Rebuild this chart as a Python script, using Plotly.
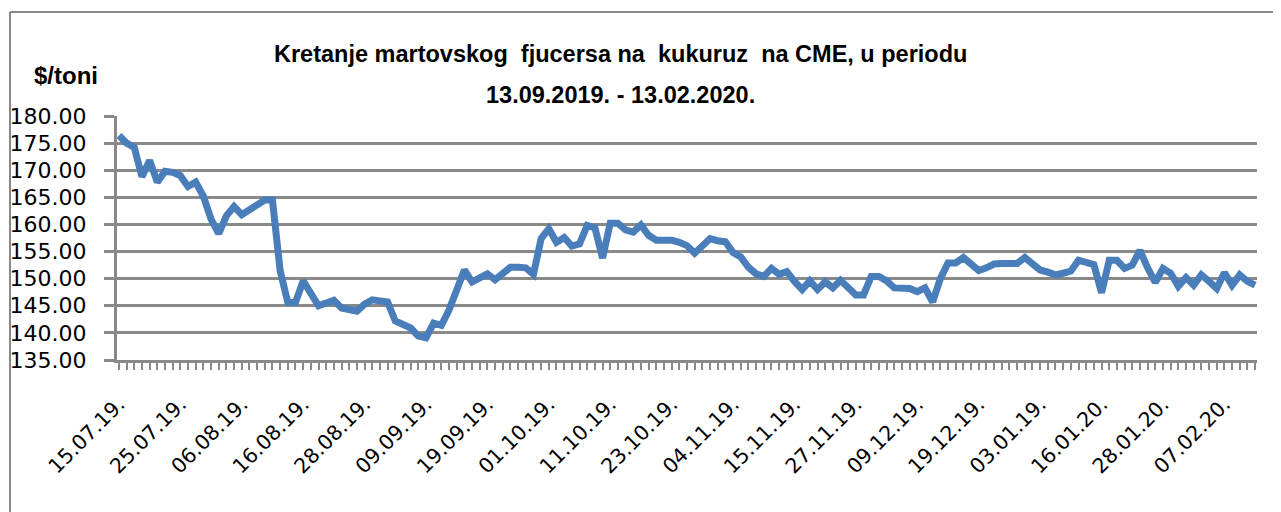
import plotly.graph_objects as go

# Values ($/toni), one per trading day
prices = [
    176.4, 175.0, 174.2, 168.8, 171.8, 167.8, 169.8, 169.6, 169.0, 167.0,
    167.8, 165.2, 161.0, 158.3, 161.6, 163.3, 161.8, 162.8, 163.8, 164.5,
    164.5, 151.5, 145.6, 145.6, 149.6, 147.2, 145.0, 145.5, 146.0, 144.6,
    144.4, 144.0, 145.3, 146.1, 145.9, 145.7, 142.2, 141.5, 140.9, 139.4,
    139.1, 141.8, 141.4, 144.2, 148.0, 151.6, 149.4, 150.2, 150.9, 149.8,
    151.0, 152.1, 152.1, 152.0, 150.8, 157.4, 159.2, 156.7, 157.6, 156.0,
    156.4, 159.8, 159.4, 153.8, 160.2, 160.2, 159.0, 158.6, 159.9, 158.0,
    157.1, 157.1, 157.1, 156.7, 156.1, 154.7, 156.0, 157.4, 157.0, 156.8,
    154.8, 154.0, 152.1, 150.9, 150.4, 151.9, 150.8, 151.3, 149.5, 148.0,
    149.6, 148.0, 149.4, 148.3, 149.7, 148.2, 147.0, 147.0, 150.4, 150.4,
    149.6, 148.3, 148.2, 148.2, 147.6, 148.3, 145.7, 150.0, 152.9, 152.9,
    153.9, 152.6, 151.5, 152.0, 152.7, 152.8, 152.8, 152.8, 153.9, 152.8,
    151.6, 151.2, 150.7, 151.0, 151.4, 153.4, 153.1, 152.6, 147.4, 153.4,
    153.4, 151.9, 152.5, 155.2, 152.0, 149.3, 151.9, 151.0, 148.6, 150.2,
    148.8, 150.7, 149.5, 148.2, 151.1, 148.8, 150.7, 149.5, 148.8,
]

# Category tick labels, shown every 8th trading day
tick_labels = [
    "15.07.19.", "25.07.19.", "06.08.19.", "16.08.19.", "28.08.19.",
    "09.09.19.", "19.09.19.", "01.10.19.", "11.10.19.", "23.10.19.",
    "04.11.19.", "15.11.19.", "27.11.19.", "09.12.19.", "19.12.19.",
    "03.01.19.", "16.01.20.", "28.01.20.", "07.02.20.",
]
label_step = 8

title_line1 = "Kretanje martovskog  fjucersa na  kukuruz  na CME, u periodu"
title_line2 = "13.09.2019. - 13.02.2020."
y_unit = "$/toni"

x_idx = list(range(len(prices)))
tick_pos = [i * label_step for i in range(len(tick_labels))]

GRAY = "#898989"
BOLD_FONT = "Liberation Sans Narrow, Arial Narrow, Liberation Sans, sans-serif"

fig = go.Figure()
fig.add_trace(go.Scatter(
    x=x_idx, y=prices, mode="lines",
    line=dict(color="#4A7EBB", width=7),
    hoverinfo="skip", showlegend=False,
))

fig.update_layout(
    width=1273, height=504,
    margin=dict(l=109, r=24, t=108, b=152),
    paper_bgcolor="white", plot_bgcolor="white",
    showlegend=False,
    xaxis=dict(
        automargin=False,
        range=[-0.25, len(prices) - 0.75],
        tickmode="array", tickvals=tick_pos, ticktext=tick_labels,
        tickangle=-45,
        tickfont=dict(family="DejaVu Sans", size=20.5, color="black"),
        ticklabelstandoff=14,
        showgrid=False, zeroline=False,
        showline=True, linecolor=GRAY, linewidth=3,
        ticks="outside", ticklen=7, tickwidth=2, tickcolor=GRAY,
        minor=dict(tick0=0, dtick=1, ticks="outside", ticklen=7,
                   tickwidth=2, tickcolor=GRAY, showgrid=False),
    ),
    yaxis=dict(
        automargin=False,
        range=[135, 180], tick0=135, dtick=5, tickformat=".2f",
        tickfont=dict(family="DejaVu Sans", size=22, color="black"),
        ticklabelstandoff=13,
        showgrid=True, gridcolor=GRAY, gridwidth=3,
        zeroline=False,
        showline=True, linecolor=GRAY, linewidth=3,
        ticks="outside", ticklen=10, tickwidth=3, tickcolor=GRAY,
    ),
    annotations=[
        dict(text=title_line1, xref="paper", yref="paper",
             x=0.442, y=1.0, xanchor="center", yanchor="bottom",
             yshift=47, showarrow=False,
             font=dict(family=BOLD_FONT, size=23.5, color="black", weight="bold")),
        dict(text=title_line2, xref="paper", yref="paper",
             x=0.442, y=1.0, xanchor="center", yanchor="bottom",
             yshift=6, showarrow=False,
             font=dict(family=BOLD_FONT, size=23.5, color="black", weight="bold")),
        dict(text=y_unit, xref="paper", yref="paper",
             x=-0.075, y=1.0, xanchor="left", yanchor="bottom",
             yshift=25, showarrow=False,
             font=dict(family=BOLD_FONT, size=24, color="black", weight="bold")),
    ],
    shapes=[
        dict(type="line", xref="paper", yref="paper",
             x0=-107 / 1140, x1=1.05, y0=1 + 104 / 244, y1=1 + 104 / 244,
             line=dict(color=GRAY, width=2)),
        dict(type="line", xref="paper", yref="paper",
             x0=-107 / 1140, x1=-107 / 1140, y0=1 + 104 / 244, y1=-1,
             line=dict(color=GRAY, width=2)),
    ],
)

fig.write_html("out.html")
